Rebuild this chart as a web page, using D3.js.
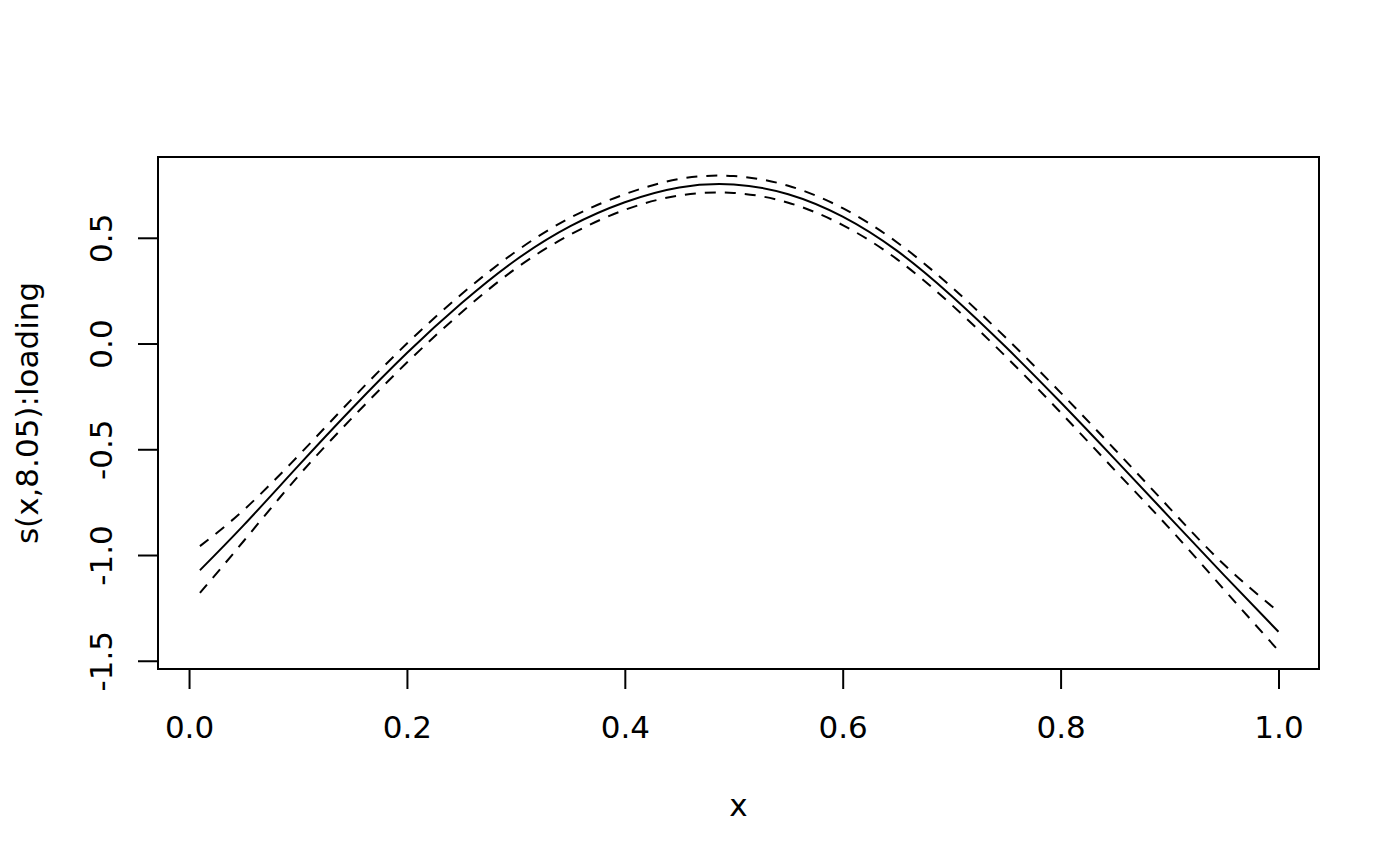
<!DOCTYPE html>
<html><head><meta charset="utf-8">
<script src="https://cdn.jsdelivr.net/npm/d3@7"></script>
<style>body{margin:0;background:#fff}</style>
</head><body><svg id="chart" width="1400" height="866"></svg>
<script>
const xValues     = [0.01, 0.05, 0.1, 0.15, 0.2, 0.25, 0.3, 0.35, 0.4, 0.45, 0.5, 0.55, 0.6, 0.65, 0.7, 0.75, 0.8, 0.85, 0.9, 0.95, 1.0];
const fitValues   = [-1.072, -0.86, -0.58, -0.305, -0.045, 0.19, 0.395, 0.555, 0.668, 0.738, 0.752, 0.706, 0.600, 0.438, 0.225, -0.018, -0.278, -0.548, -0.822, -1.095, -1.363];
const upperValues = [-0.958, -0.788, -0.532, -0.26, 0.0, 0.233, 0.435, 0.595, 0.706, 0.778, 0.792, 0.746, 0.640, 0.478, 0.267, 0.026, -0.232, -0.502, -0.778, -1.045, -1.268];
const lowerValues = [-1.179, -0.935, -0.628, -0.35, -0.09, 0.147, 0.355, 0.515, 0.632, 0.70, 0.712, 0.666, 0.56, 0.398, 0.183, -0.063, -0.326, -0.60, -0.874, -1.163, -1.452];
const xTicks = [0, 0.2, 0.4, 0.6, 0.8, 1.0];
const yTicks = [-1.5, -1.0, -0.5, 0, 0.5];
const xTitle = "x";
const yTitle = "s(x,8.05):loading";

const box = {left: 158, right: 1319, top: 157, bottom: 669};
const font = "'DejaVu Sans', sans-serif";
const fs = 31;
const fmt = d => d.toFixed(1);

const svg = d3.select("#chart");
const x = d3.scaleLinear().domain([-0.0285, 1.0372]).range([box.left, box.right]);
const y = d3.scaleLinear().domain([-1.539, 0.882]).range([box.bottom, box.top]);

const line = (vals) => d3.line().x((d, i) => x(xValues[i])).y(d => y(d)).curve(d3.curveNatural)(vals);

svg.append("path").attr("d", line(fitValues)).attr("fill", "none").attr("stroke", "#000").attr("stroke-width", 2);
[upperValues, lowerValues].forEach(v => {
  svg.append("path").attr("d", line(v)).attr("fill", "none").attr("stroke", "#000")
    .attr("stroke-width", 2).attr("stroke-dasharray", "11,9");
});

svg.append("rect").attr("x", box.left).attr("y", box.top)
  .attr("width", box.right - box.left).attr("height", box.bottom - box.top)
  .attr("fill", "none").attr("stroke", "#000").attr("stroke-width", 2);

// x axis
const xa = svg.append("g").attr("transform", `translate(0,${box.bottom})`)
  .call(d3.axisBottom(x).tickValues(xTicks).tickSize(20).tickPadding(0).tickFormat(fmt));
xa.select(".domain").attr("d", `M${x(xTicks[0])},0H${x(xTicks[xTicks.length-1])}`).attr("stroke-width", 2);
xa.selectAll(".tick line").attr("stroke-width", 2);
xa.selectAll(".tick text").attr("font-family", font).attr("font-size", fs).attr("fill", "#000")
  .attr("dy", null).attr("y", 58).attr("dominant-baseline", "central");

// y axis
const ya = svg.append("g").attr("transform", `translate(${box.left},0)`)
  .call(d3.axisLeft(y).tickValues(yTicks).tickSize(20).tickFormat(fmt));
ya.select(".domain").attr("d", `M0,${y(yTicks[0])}V${y(yTicks[yTicks.length-1])}`).attr("stroke-width", 2);
ya.selectAll(".tick line").attr("stroke-width", 2);
ya.selectAll(".tick text").attr("font-family", font).attr("font-size", fs).attr("fill", "#000")
  .attr("x", null).attr("dy", null).attr("text-anchor", "middle").attr("dominant-baseline", "central")
  .attr("transform", "translate(-57,0) rotate(-90)");

svg.append("text").attr("x", (box.left + box.right) / 2).attr("y", 805)
  .attr("text-anchor", "middle").attr("dominant-baseline", "central")
  .attr("font-family", font).attr("font-size", fs).text(xTitle);
svg.append("text").attr("transform", `translate(27,${(box.top + box.bottom) / 2}) rotate(-90)`)
  .attr("text-anchor", "middle").attr("dominant-baseline", "central")
  .attr("font-family", font).attr("font-size", fs).text(yTitle);
</script>
</body></html>
